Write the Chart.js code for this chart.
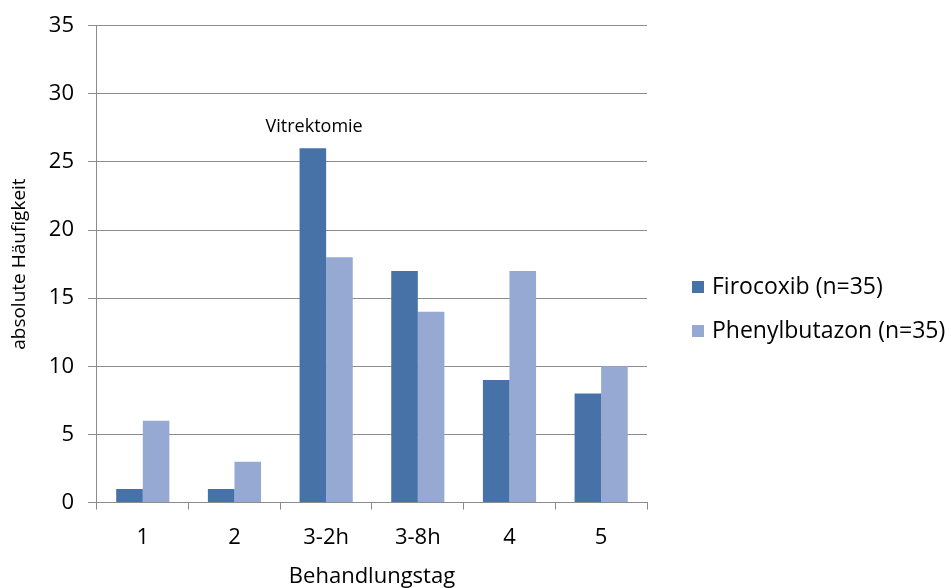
<!DOCTYPE html>
<html>
<head>
<meta charset="utf-8">
<script src="https://cdn.jsdelivr.net/npm/chart.js@4.4.1/dist/chart.umd.min.js"></script>
<style>
html,body{margin:0;padding:0;background:#fff;}
#wrap{width:951px;height:588px;position:relative;}
</style>
</head>
<body>
<div id="wrap"><canvas id="c" width="951" height="588"></canvas></div>
<script>
const categories = ['1', '2', '3-2h', '3-8h', '4', '5'];
const firocoxib = [1, 1, 26, 17, 9, 8];
const phenylbutazon = [6, 3, 18, 14, 17, 10];
const seriesLabels = ['Firocoxib (n=35)', 'Phenylbutazon (n=35)'];
const annotationText = 'Vitrektomie';
const annotationCategory = 2;
const annotationValue = 27.5;

const FONT = '"Open Sans", sans-serif';
const GRID = '#8c8c8c';

const legendPlugin = {
  id: 'sideLegend',
  afterDraw(chart) {
    const ctx = chart.ctx;
    const area = chart.chartArea;
    ctx.save();
    ctx.font = '23px ' + FONT;
    ctx.textBaseline = 'middle';
    ctx.textAlign = 'left';
    const x0 = area.right + 45;
    const yStart = 287;
    const gap = 44;
    chart.data.datasets.forEach((ds, i) => {
      const y = yStart + i * gap;
      ctx.fillStyle = ds.backgroundColor;
      ctx.fillRect(x0, y - 6, 12, 12);
      ctx.fillStyle = '#000';
      ctx.fillText(ds.label, x0 + 20, y);
    });
    ctx.restore();
  }
};

const annotationPlugin = {
  id: 'annot',
  afterDatasetsDraw(chart) {
    const ctx = chart.ctx;
    const xs = chart.scales.x, ys = chart.scales.y;
    ctx.save();
    ctx.font = '18px ' + FONT;
    ctx.fillStyle = '#000';
    ctx.textAlign = 'center';
    ctx.textBaseline = 'middle';
    ctx.fillText(annotationText, xs.getPixelForValue(annotationCategory) - 12, ys.getPixelForValue(annotationValue) - 1);
    ctx.restore();
  }
};

new Chart(document.getElementById('c'), {
  type: 'bar',
  data: {
    labels: categories,
    datasets: [
      { label: seriesLabels[0], data: firocoxib, backgroundColor: '#4672A8', borderWidth: 0 },
      { label: seriesLabels[1], data: phenylbutazon, backgroundColor: '#95A9D3', borderWidth: 0 }
    ]
  },
  options: {
    responsive: false,
    animation: false,
    devicePixelRatio: 1,
    layout: { padding: { left: 8, right: 304, top: 8, bottom: 0 } },
    datasets: { bar: { barPercentage: 1, categoryPercentage: 0.58 } },
    plugins: {
      legend: { display: false },
      tooltip: { enabled: false }
    },
    scales: {
      x: {
        offset: true,
        grid: { offset: true, drawOnChartArea: false, drawTicks: true, tickLength: 7, color: GRID, lineWidth: 1 },
        border: { display: true, color: GRID, width: 1 },
        ticks: { color: '#000', font: { family: FONT, size: 22 }, padding: 15 },
        title: { display: true, text: 'Behandlungstag', color: '#000', font: { family: FONT, size: 22, lineHeight: 1 }, padding: { top: 0, bottom: 0 } }
      },
      y: {
        min: 0, max: 35,
        ticks: { stepSize: 5, color: '#000', font: { family: FONT, size: 22, lineHeight: 1.05 }, padding: 14 },
        grid: { color: GRID, lineWidth: 1, drawTicks: true, tickLength: 9 },
        border: { display: true, color: GRID, width: 1 },
        title: { display: true, text: 'absolute Häufigkeit', color: '#000', font: { family: FONT, size: 19 }, padding: { top: 0, bottom: 4 } }
      }
    }
  },
  plugins: [annotationPlugin, legendPlugin]
});
</script>
</body>
</html>
